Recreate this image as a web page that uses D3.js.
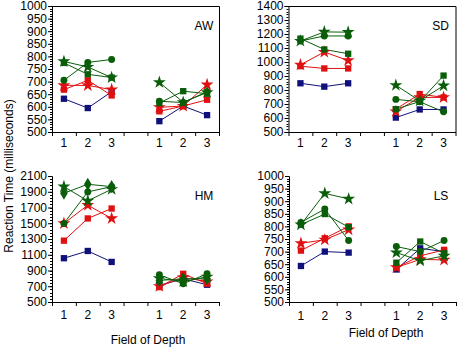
<!DOCTYPE html>
<html>
<head>
<meta charset="utf-8">
<title>Reaction Time by Field of Depth</title>
<script src="https://d3js.org/d3.v7.min.js"></script>
<style>
  body { margin: 0; background: #fff; }
  svg text { font-family: "Liberation Sans", Arial, sans-serif; fill: #000; }
  .num { font-family: "Liberation Sans Narrow", "Arial Narrow", "Liberation Sans", sans-serif; }
  .domain, .tick line { stroke: #000; stroke-width: 1px; }
</style>
</head>
<body>
<svg id="chart" width="458" height="349"></svg>
<script>

// ---- data -----------------------------------------------------------
var xLabels = ["1", "2", "3", "1", "2", "3"];
var seriesNames = ["blueSquare", "redSquare", "redStar", "greenCircle", "greenSquare", "greenStar"];
var panelNames = ["AW", "SD", "HM", "LS"];

var yDomains = { AW: [500, 1000], SD: [500, 1400], HM: [500, 2100], LS: [500, 1000] };
var majorStep = { AW: 50, SD: 100, HM: 200, LS: 50 };
var minorStep = { AW: 10, SD: 20, HM: 40, LS: 10 };

// rows follow seriesNames; first three values = left group, last three = right group
var awValues = [
  [632, 595, 660, 543, 603, 567],
  [668, 705, 645, 582, 603, 628],
  [685, 685, 668, 598, 603, 688],
  [705, 776, 788, 622, 617, 660],
  [774, 729, 716, 615, 662, 652],
  [780, 758, 716, 697, 618, 657]
];
var sdValues = [
  [848, 824, 848, 603, 661, 661],
  [970, 954, 954, 663, 771, 747],
  [980, 1071, 1011, 646, 747, 747],
  [1150, 1186, 1186, 733, 716, 644],
  [1167, 1090, 1059, 663, 718, 903],
  [1150, 1215, 1213, 834, 723, 831]
];
var hmValues = [
  [1056, 1148, 1009, 710, 795, 719],
  [1279, 1561, 1687, 689, 858, 732],
  [1498, 1729, 1561, 700, 810, 760],
  [1498, 1898, 1965, 845, 732, 858],
  [1881, 1995, 1965, 774, 795, 795],
  [1965, 1784, 1932, 800, 760, 820]
];
var lsValues = [
  [643, 700, 696, 629, 713, 700],
  [704, 753, 800, 637, 683, 707],
  [733, 747, 787, 637, 669, 667],
  [816, 869, 744, 720, 700, 744],
  [807, 849, 797, 656, 740, 693],
  [807, 931, 909, 696, 664, 683]
];
var panelValues = { AW: awValues, SD: sdValues, HM: hmValues, LS: lsValues };

// ---- look ------------------------------------------------------------
var navy = "#10107a", red = "#e01010", green = "#0a5e0a";
var seriesColor = {
  blueSquare: navy, redSquare: red, redStar: red,
  greenCircle: green, greenSquare: green, greenStar: green
};
var seriesShape = {
  blueSquare: d3.symbolSquare, redSquare: d3.symbolSquare, redStar: d3.symbolStar,
  greenCircle: d3.symbolCircle, greenSquare: d3.symbolSquare, greenStar: d3.symbolStar
};
var shapeSize = function(shape) {
  if (shape === d3.symbolStar) return 52;
  if (shape === d3.symbolCircle) return 38;
  if (shape === d3.symbolDiamond) return 50;
  return 40;
};

var panelBox = {
  AW: { left: 52, top: 6, framed: true, labelY: 143 },
  SD: { left: 288.5, top: 6, framed: true, labelY: 143 },
  HM: { left: 52, top: 176, framed: false, labelY: 315 },
  LS: { left: 289, top: 176, framed: false, labelY: 316 }
};
var pw = 167, ph = 126;

var svg = d3.select("#chart");

// x scale: 7 units, points sit in the middle of units 0-2 and 4-6
var x = d3.scaleLinear().domain([0, 7]).range([0, pw]);
function xPos(i) { return i < 3 ? i + 0.5 : i + 1.5; }

panelNames.forEach(function(name) {
  var box = panelBox[name];
  var g = svg.append("g").attr("transform", "translate(" + box.left + "," + box.top + ")");

  var y = d3.scaleLinear().domain(yDomains[name]).range([ph, 0]);

  // frame on the upper panels
  if (box.framed) {
    g.append("path")
      .attr("d", "M0,0.5H" + pw + ".5V" + ph)
      .attr("fill", "none").attr("stroke", "#000");
  }

  // minor y ticks
  var minor = d3.range(yDomains[name][0], yDomains[name][1] + 1, minorStep[name]);
  g.append("g").selectAll("line").data(minor).enter().append("line")
    .attr("x1", -2).attr("x2", 0)
    .attr("y1", function(d) { return Math.round(y(d)) + 0.5; })
    .attr("y2", function(d) { return Math.round(y(d)) + 0.5; })
    .attr("stroke", "#000");

  var major = d3.range(yDomains[name][0], yDomains[name][1] + 1, majorStep[name]);
  var yAxis = g.append("g")
    .call(d3.axisLeft(y).tickValues(major).tickSize(4).tickPadding(1).tickFormat(d3.format("d")));
  yAxis.selectAll("text").attr("class", "num").style("font-size", "12px");

  // x axis: ticks at unit borders, labels in the middle
  var xAxis = g.append("g").attr("transform", "translate(0," + ph + ")")
    .call(d3.axisBottom(x).tickValues(d3.range(0, 8)).tickSize(4).tickFormat(""));
  xAxis.select(".domain").attr("d", "M0.5,0.5H" + (pw + 0.5));

  g.append("g").selectAll("text").data(xLabels).enter().append("text")
    .attr("class", "num")
    .attr("x", function(d, i) { return x(xPos(i)); })
    .attr("y", box.labelY - box.top + 4)
    .attr("text-anchor", "middle")
    .style("font-size", "12px")
    .text(function(d) { return d; });

  // series lines (each group connected separately)
  var vals = panelValues[name];
  var line = d3.line()
    .x(function(d) { return x(d.x); })
    .y(function(d) { return y(d.v); });

  vals.forEach(function(row, s) {
    var col = seriesColor[seriesNames[s]];
    [row.slice(0, 3), row.slice(3, 6)].forEach(function(part, k) {
      var pts = part.map(function(v, j) { return { x: xPos(k * 3 + j), v: v }; });
      g.append("path").datum(pts)
        .attr("d", line)
        .attr("fill", "none")
        .attr("stroke", col)
        .attr("stroke-width", 1);
    });
  });

  vals.forEach(function(row, s) {
    var key = seriesNames[s];
    var shape = seriesShape[key];
    if (name === "HM" && key === "greenSquare") shape = d3.symbolDiamond;
    g.append("g").selectAll("path").data(row).enter().append("path")
      .attr("transform", function(v, i) { return "translate(" + x(xPos(i)) + "," + y(v) + ")"; })
      .attr("d", d3.symbol().type(shape).size(shapeSize(shape)))
      .attr("fill", seriesColor[key]);
  });

  g.append("text")
    .attr("x", 152)
    .attr("y", 24)
    .attr("text-anchor", "middle")
    .style("font-size", "12px")
    .text(name);
});

// axis titles
svg.append("text")
  .attr("transform", "translate(13,176) rotate(-90)")
  .attr("text-anchor", "middle")
  .style("font-size", "12px")
  .text("Reaction Time (milliseconds)");

svg.append("text")
  .attr("x", 148).attr("y", 344)
  .attr("text-anchor", "middle")
  .style("font-size", "12px")
  .text("Field of Depth");

svg.append("text")
  .attr("x", 386).attr("y", 337)
  .attr("text-anchor", "middle")
  .style("font-size", "12px")
  .text("Field of Depth");

</script>
</body>
</html>
